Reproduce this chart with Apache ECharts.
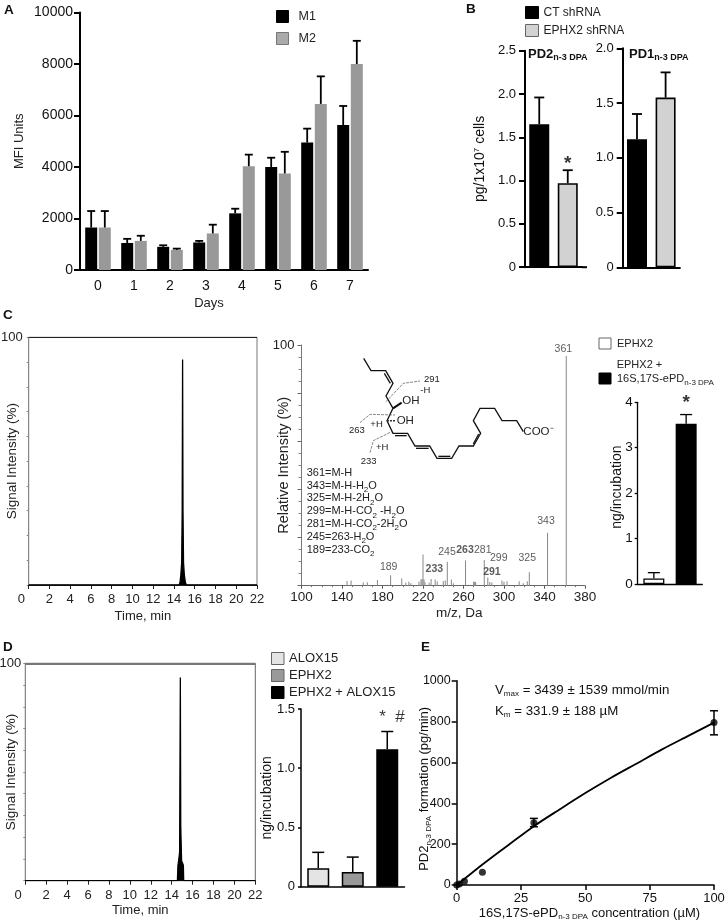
<!DOCTYPE html>
<html><head><meta charset="utf-8">
<style>html,body{margin:0;padding:0;background:#fff}#c{width:725px;height:920px}</style>
<script src="https://cdn.jsdelivr.net/npm/echarts@6/dist/echarts.min.js"></script>
</head><body><div id="c"></div>
<script>
// ---------- data ----------
const days = ['0','1','2','3','4','5','6','7'];
const m1Values = [1650,1050,900,1070,2200,4000,4950,5630];
const m1Tops   = [2290,1210,960,1130,2380,4360,5490,6370];
const m2Values = [1650,1130,780,1420,4030,3750,6450,8000];
const m2Tops   = [2290,1330,830,1760,4480,4590,7520,8900];

const shCats = ['CT shRNA','EPHX2 shRNA'];
const pd2Values = [1.65,0.97];
const pd2Tops   = [1.96,1.12];
const pd1Values = [1.17,1.55];
const pd1Tops   = [1.40,1.78];

const cBarCats = ['EPHX2','EPHX2 + ePD'];
const cBarValues = [0.12,3.53];
const cBarTops   = [0.25,3.73];

const dBarCats = ['ALOX15','EPHX2','EPHX2 + ALOX15'];
const dBarValues = [0.155,0.125,1.16];
const dBarTops   = [0.29,0.25,1.31];

const chromC = [[0,0],[14.5,0],[14.58,1],[14.66,4],[14.74,9],[14.79,30],[14.83,91],[14.87,30],[14.92,9],[15.0,4],[15.1,1],[15.2,0],[22,0]];
const chromD = [[0,0],[14.55,0],[14.6,7],[14.66,9],[14.76,13],[14.83,93.5],[14.87,25],[14.95,9],[15.05,8],[15.12,7],[15.15,0],[22,0]];

const spectrum = [[145,2],[149,2.2],[161,1.3],[165,1.4],[175,2.4],[188,4.3],[199,3],[203,1.3],[206,1.6],[208,1],
  [216,1.6],[218,2.6],[219,2.8],[220,13],[221,2.6],[222,1.4],[226,1.2],[228,2.8],[232,2.6],[234,1.8],[240,2],[242,2.2],
  [244,10],[248,2.6],[250,1],[262,10.5],[270,1.6],[271,1.6],[272,1.5],[280.5,10.7],[284,3.4],[286,1.5],[288,1.3],
  [298,2.2],[300,1.6],[303,1.8],[315,1.8],[319,1],[323,1.8],[325,5.6],[343,22],[361.5,95.4]];
const peakLabels = [['361',358.6,98.2,0],['343',341.5,26.9,0],['325',323,11.6,0],['299',294.8,11.4,0],['291',288.1,5.8,1],
  ['281',279,14.7,0],['263',261.5,14.9,1],['245',243.7,14,0],['233',231.2,6.9,1],['189',186.1,7.8,0]];

const ePoints = [[0,0],[1,5],[3,18],[10,63],[30,305],[100,795]];
const eErrors = [[30,285,326],[100,735,853]];
const eCurve = [[0,0],[5,50],[10,100],[20,195],[30,288],[40,370],[50,450],[60,525],[70,595],[80,665],[90,730],[100,795]];

// ---------- helpers ----------
const FONT = '"Liberation Sans", Arial, sans-serif';
const subRich = {s:{fontSize:8,padding:[8,0,0,0],verticalAlign:'bottom',fontFamily:FONT},
                 sb:{fontSize:9,fontWeight:'bold',padding:[8,0,0,0],verticalAlign:'bottom',fontFamily:FONT},
                 b:{fontSize:13,fontWeight:'bold',fontFamily:FONT}};

function errSeries(name, xi, pairs, frac, w, cap){
  return {type:'custom',name,xAxisIndex:xi,yAxisIndex:xi,silent:true,z:3,clip:false,
    encode:{x:0,y:[1,2]},data:pairs,
    renderItem(p,api){
      const x=api.value(0),lo=api.coord([x,api.value(1)]),hi=api.coord([x,api.value(2)]);
      const off=frac*api.size([1,0])[0],cx=lo[0]+off;
      const st={stroke:'#000',lineWidth:w};
      return {type:'group',children:[
        {type:'line',shape:{x1:cx,y1:lo[1],x2:cx,y2:hi[1]},style:st},
        {type:'line',shape:{x1:cx-cap,y1:hi[1],x2:cx+cap,y2:hi[1]},style:st}]};
    }};
}
const zip=(a,b)=>a.map((v,i)=>[i,v,b[i]]);
function onlyIdx(vals,i){return vals.map((v,j)=>j===i?v:null);}
function note(xi,items,font){
  return {type:'scatter',xAxisIndex:xi,yAxisIndex:xi,symbolSize:0,silent:true,z:5,clip:false,
    data:items.map(t=>({name:t[0],value:[t[1],t[2]],label:{fontWeight:t[3]?'bold':(font.weight||'normal')}})),
    label:{show:true,position:'inside',formatter:p=>p.name,color:font.color||'#000',fontSize:font.size,fontFamily:FONT}};
}
function catX(i,data,o){o=o||{};
  const line={onZero:false,lineStyle:{color:'#000',width:o.w||2}};
  if(o.ext){line.symbol=['none','rect'];line.symbolSize=[o.w||2,o.ext*2];line.symbolOffset=[0,o.ext];}
  return Object.assign({type:'category',gridIndex:i,data,axisLine:line,
  axisTick:{alignWithLabel:true,length:o.tick||5,lineStyle:{color:'#000',width:o.w||2}},
  axisLabel:{show:!!o.labels,fontSize:14,color:'#111',margin:9,fontFamily:FONT},
  splitLine:{show:false}},o.extra||{});}
function valY(i,max,interval,o){o=o||{};
  const lab={fontSize:o.font||13,color:'#111',margin:o.margin||4,fontFamily:FONT};
  lab.formatter=o.fmt||(v=>String(v));
  return Object.assign({type:'value',gridIndex:i,min:0,max,interval,
  axisLine:{show:true,onZero:false,lineStyle:{color:'#000',width:o.w||2}},
  axisTick:{show:true,length:o.tick||6,lineStyle:{color:'#000',width:o.w||2}},
  axisLabel:lab,splitLine:{show:false}},o.extra||{});}
const dec=v=>v===0?'0':v.toFixed(1);

const grids=[
 {left:80,top:12.5,width:288,height:257.5},     //0 A
 {left:525,top:50.7,width:57,height:216.5},     //1 B PD2
 {left:622.7,top:48.3,width:57.2,height:219},   //2 B PD1
 {left:28.7,top:337.3,width:228.3,height:247.7,show:true,borderColor:'#777',borderWidth:1}, //3 C chrom
 {left:301.5,top:345,width:283.5,height:240.7}, //4 C spec
 {left:637.7,top:402.3,width:64.6,height:181.7},//5 C bar
 {left:25.3,top:663.3,width:230,height:217.4,show:true,borderColor:'#666',borderWidth:1}, //6 D chrom
 {left:301,top:709,width:103.5,height:177.7},   //7 D bar
 {left:456.7,top:680.7,width:257.3,height:204.3}//8 E
].map(g=>Object.assign(g,{outerBoundsMode:'none'}));

function chromX(i,nameGap){return {type:'value',gridIndex:i,min:0,max:22,interval:2,
  axisLine:{onZero:false,lineStyle:{color:'#222',width:1}},
  axisTick:{length:4,lineStyle:{color:'#222',width:1}},
  axisLabel:{fontSize:13,color:'#222',margin:8,fontFamily:FONT,hideOverlap:false,formatter:v=>v===0?'0    ':String(v)},
  splitLine:{show:false},name:'Time, min',nameLocation:'middle',nameGap,
  nameTextStyle:{fontSize:13,color:'#222',fontFamily:FONT}};}
function chromY(i,nameGap,margin){return {type:'value',gridIndex:i,min:0,max:100,interval:10,nameMoveOverlap:false,
  axisLine:{show:true,onZero:false,lineStyle:{color:'#888',width:1}},
  axisTick:{show:true,length:2,lineStyle:{color:'#888',width:1}},
  axisLabel:{fontSize:13,color:'#222',margin,fontFamily:FONT,showMinLabel:true,formatter:v=>v===100?'100':''},
  splitLine:{show:false},name:'Signal Intensity (%)',nameLocation:'middle',nameGap,
  nameTextStyle:{fontSize:13.5,color:'#222',fontFamily:FONT}};}
function chromS(i,data,topColor,topW){return {type:'line',xAxisIndex:i,yAxisIndex:i,data,showSymbol:false,silent:true,
  lineStyle:{color:'#000',width:1.3},areaStyle:{color:'#000',opacity:1},
  markLine:{silent:true,symbol:'none',label:{show:false},lineStyle:{color:topColor,width:topW,type:'solid'},data:[{yAxis:100}]}};}

const xAxes=[
  catX(0,days,{labels:true,extra:{name:'Days',nameLocation:'middle',nameGap:27,nameTextStyle:{fontSize:13,color:'#222',fontFamily:FONT,padding:[0,30,0,0]}}}),
  catX(1,shCats,{ext:2.5}),
  catX(2,shCats,{}),
  chromX(3,25),
  {type:'value',gridIndex:4,min:100,max:380,interval:40,
   axisLine:{onZero:false,lineStyle:{color:'#666',width:1}},
   axisTick:{length:3,lineStyle:{color:'#555',width:1}},
   minorTick:{show:true,splitNumber:4,length:1.5,lineStyle:{color:'#777'}},
   axisLabel:{fontSize:13.5,color:'#222',margin:5,fontFamily:FONT},splitLine:{show:false},minorSplitLine:{show:false},
   name:'m/z, Da',nameLocation:'middle',nameGap:21,nameTextStyle:{fontSize:13.5,color:'#222',fontFamily:FONT,padding:[0,0,0,32]}},
  catX(5,cBarCats,{w:1.3,tick:5}),
  chromX(6,23),
  catX(7,dBarCats,{w:1.5,tick:5}),
  {type:'value',gridIndex:8,min:0,max:100,interval:25,
   axisLine:{onZero:false,lineStyle:{color:'#000',width:1.5}},axisTick:{length:5,lineStyle:{color:'#000',width:1.5}},
   axisLabel:{fontSize:13,color:'#111',margin:7,fontFamily:FONT,showMaxLabel:true},splitLine:{show:false},
   name:'16S,17S-ePD{s|n-3 DPA} concentration (µM)',nameLocation:'middle',nameGap:20,
   nameTextStyle:{fontSize:13,color:'#111',fontFamily:FONT,padding:[0,0,0,8],rich:subRich}}
];
const yAxes=[
  valY(0,10000,2000,{font:14,margin:7,extra:{nameMoveOverlap:false,name:'MFI Units',nameLocation:'middle',nameGap:54,nameTextStyle:{fontSize:13,color:'#222',fontFamily:FONT}}}),
  valY(1,2.5,0.5,{fmt:dec,margin:9,extra:{nameMoveOverlap:false,name:'pg/1x10{t|7} cells',nameLocation:'middle',nameGap:38,nameTextStyle:{fontSize:14,color:'#111',fontFamily:FONT,rich:{t:{fontSize:8,verticalAlign:'top',fontFamily:FONT}}}}}),
  valY(2,2,0.5,{fmt:dec,margin:9}),
  chromY(3,9,6),
  {type:'value',gridIndex:4,min:0,max:100,interval:20,nameMoveOverlap:false,
   axisLine:{show:true,onZero:false,lineStyle:{color:'#777',width:1}},
   axisTick:{show:true,length:4,lineStyle:{color:'#666',width:1}},
   minorTick:{show:true,splitNumber:4,length:3,lineStyle:{color:'#888'}},
   axisLabel:{fontSize:13,color:'#222',margin:7,fontFamily:FONT,formatter:v=>v===100?'100':''},
   splitLine:{show:false},minorSplitLine:{show:false},
   name:'Relative Intensity (%)',nameLocation:'middle',nameGap:10,nameTextStyle:{fontSize:14.5,color:'#222',fontFamily:FONT}},
  valY(5,4,1,{w:1.3,tick:3,font:13.5,margin:5,extra:{nameMoveOverlap:false,name:'ng/incubation',nameLocation:'middle',nameGap:14,nameTextStyle:{fontSize:14,color:'#111',fontFamily:FONT,padding:[0,0,0,12]}}}),
  chromY(6,7,4),
  valY(7,1.5,0.5,{w:1.5,tick:3,font:13,margin:6,fmt:dec,extra:{nameMoveOverlap:false,name:'ng/incubation',nameLocation:'middle',nameGap:27,nameTextStyle:{fontSize:14,color:'#111',fontFamily:FONT}}}),
  valY(8,1000,200,{w:1.5,tick:5,font:12.5,margin:6,extra:{nameMoveOverlap:false,name:'PD2{s|n-3 DPA} formation (pg/min)',nameLocation:'middle',nameGap:24,nameTextStyle:{fontSize:13,color:'#111',fontFamily:FONT,rich:subRich,padding:[0,12,0,0]}}})
];

const GAP=((13.6-12)/12*100)+'%';
function oneBar(xi,name,vals,i,color,bw,bwd,borderColor){
  return {type:'bar',name,xAxisIndex:xi,yAxisIndex:xi,data:onlyIdx(vals,i),barWidth:bw,barGap:'-100%',silent:true,
    itemStyle:{color,borderColor:borderColor||'#000',borderWidth:bwd}};
}
const series=[
  {type:'bar',name:'M1',xAxisIndex:0,yAxisIndex:0,data:m1Values,barWidth:12,barGap:GAP,silent:true,itemStyle:{color:'#000'}},
  {type:'bar',name:'M2',xAxisIndex:0,yAxisIndex:0,data:m2Values,barWidth:12,barGap:GAP,silent:true,itemStyle:{color:'#999'}},
  errSeries('M1 err',0,zip(m1Values,m1Tops),-0.189,1.8,4),
  errSeries('M2 err',0,zip(m2Values,m2Tops),0.189,1.8,4),

  oneBar(1,'CT shRNA',pd2Values,0,'#000',20,1.6),
  oneBar(1,'EPHX2 shRNA',pd2Values,1,'#d2d2d2',20,1.6),
  errSeries('PD2 err',1,zip(pd2Values,pd2Tops),0,1.8,5),
  note(1,[['*',1,1.2]],{size:19,weight:'bold'}),
  oneBar(2,'PD1 CT',pd1Values,0,'#000',20,1.6),
  oneBar(2,'PD1 EPHX2',pd1Values,1,'#d2d2d2',20,1.6),
  errSeries('PD1 err',2,zip(pd1Values,pd1Tops),0,1.8,5),

  chromS(3,chromC,'#222',1),
  {type:'bar',name:'Spectrum',xAxisIndex:4,yAxisIndex:4,data:spectrum,barWidth:1,silent:true,itemStyle:{color:'#888'}},
  note(4,peakLabels,{size:10.5,color:'#333'}),

  oneBar(5,'EPHX2',cBarValues,0,'#fff',21,1.3),
  oneBar(5,'EPHX2 + 16S,17S-ePD',cBarValues,1,'#000',21,1.3),
  errSeries('C err',5,zip(cBarValues,cBarTops),0,1.3,6),
  note(5,[['*',1,3.98]],{size:19,weight:'bold'}),

  chromS(6,chromD,'#777',2),

  oneBar(7,'ALOX15',dBarValues,0,'#e4e4e4',22,1.5),
  oneBar(7,'EPHX2 ',dBarValues,1,'#999',22,1.5),
  oneBar(7,'EPHX2 + ALOX15',dBarValues,2,'#000',22,1.5),
  errSeries('D err',7,zip(dBarValues,dBarTops),0,1.5,6),
  note(7,[['  *  #',2,1.43]],{size:17}),

  {type:'line',name:'Fit',xAxisIndex:8,yAxisIndex:8,data:eCurve,smooth:0.3,showSymbol:false,silent:true,clip:false,lineStyle:{color:'#000',width:1.8}},
  {type:'scatter',name:'Rate',xAxisIndex:8,yAxisIndex:8,data:ePoints,symbolSize:7,silent:true,clip:false,itemStyle:{color:'#000'},z:4},
  {type:'custom',name:'Rate err',xAxisIndex:8,yAxisIndex:8,silent:true,clip:false,encode:{x:0,y:[1,2]},data:eErrors,z:4,
   renderItem(p,api){const x=api.value(0),a=api.coord([x,api.value(1)]),b=api.coord([x,api.value(2)]),c=4,st={stroke:'#000',lineWidth:1.5};
     return {type:'group',children:[
       {type:'line',shape:{x1:a[0],y1:a[1],x2:b[0],y2:b[1]},style:st},
       {type:'line',shape:{x1:a[0]-c,y1:a[1],x2:a[0]+c,y2:a[1]},style:st},
       {type:'line',shape:{x1:b[0]-c,y1:b[1],x2:b[0]+c,y2:b[1]},style:st}]};}}
];

function leg(left,top,gap,size,items,font,textPad,extra){
  return Object.assign({left,top,orient:'vertical',padding:0,itemGap:gap,itemWidth:size[0],itemHeight:size[1],icon:'rect',selectedMode:false,
    textStyle:{fontSize:font,color:'#222',fontFamily:FONT,padding:[0,0,0,textPad],rich:subRich},
    data:items.map(it=>({name:it[0],itemStyle:{color:it[1],borderColor:it[2],borderWidth:1}}))},extra||{});
}
const legends=[
  leg(276,10,9,[12,12],[['M1','#000','#000'],['M2','#aaa','#777']],12.5,5),
  leg(525,6,5,[13,12],[['CT shRNA','#000','#000'],['EPHX2 shRNA','#d2d2d2','#666']],12,0),
  leg(598.5,337.5,23,[12,11],[['EPHX2','#fff','#666'],['EPHX2 + 16S,17S-ePD','#000','#000']],11,1,
      {formatter:n=>n==='EPHX2'?n:'16S,17S-ePD{s|n-3 DPA}'}),
  leg(271,652,4,[12.5,12],[['ALOX15','#e4e4e4','#666'],['EPHX2 ','#999','#666'],['EPHX2 + ALOX15','#000','#000']],13,0)
];

// ---------- text & structure ----------
function T(x,y,text,o){o=o||{};return {type:'text',x,y,silent:true,z:20,style:{text,align:o.align||'left',verticalAlign:'middle',
  fontSize:o.size||11,fontWeight:o.bold?'bold':'normal',fontFamily:FONT,fill:o.color||'#222',rich:subRich}};}
const Z=(x,y)=>[260+x/3,320+y/3];
const TZ=(x,y,t,o)=>{const p=Z(x,y);return T(p[0],p[1],t,o);};
function PL(pts,w,color,dash){return {type:'polyline',silent:true,z:19,shape:{points:pts.map(p=>Z(p[0],p[1]))},
  style:{stroke:color,lineWidth:w,fill:null,lineDash:dash||null}};}
const B={size:13.5,bold:true,color:'#111'};
const chain=[[311,115],[333,152],[377,152],[399,190],[378,228],[399,265],[381,302],[399,340],[443,340],[465,378],[509,378],[531,415],[575,415],[597,378],[640,378],[662,340],[640,302],[660,265],[704,265],[726,302],[770,302],[790,335]];
const graphics=[
  T(4,10,'A',B),T(466,9,'B',B),T(3,315,'C',B),T(3,647,'D',B),T(421,647,'E',B),
  T(528,54,'{b|PD2}{sb|n-3 DPA}',{size:13,bold:true,color:'#111'}),
  T(629,54,'{b|PD1}{sb|n-3 DPA}',{size:13,bold:true,color:'#111'}),
  T(616.7,364.5,'EPHX2 +',{size:11}),
  T(495,690,'V{s|max} = 3439 ± 1539 mmol/min',{size:13.3,color:'#111'}),
  T(495,711,'K{s|m} = 331.9 ± 188 µM',{size:13.3,color:'#111'}),
  PL(chain,1.3,'#111'),
  PL([[373,160],[391,190]],1.3,'#111'),PL([[405,347],[440,347]],1.3,'#111'),PL([[468,385],[506,385]],1.3,'#111'),
  PL([[535,409],[571,409]],1.3,'#111'),PL([[640,372],[656,342]],1.3,'#111'),
  PL([[399,265],[425,248]],2.2,'#111'),PL([[381,302],[408,302]],1.5,'#333',[2,1]),
  PL([[378,245],[430,190],[480,183]],0.7,'#555',[3,1]),
  PL([[300,308],[330,283],[405,285]],0.7,'#555',[3,1]),
  PL([[330,398],[340,362],[395,335]],0.7,'#555',[3,1]),
  TZ(427,243,'OH',{size:11.5}),TZ(410,303,'OH',{size:11.5}),
  TZ(790,335,'COO⁻',{size:11.5}),
  TZ(492,178,'291',{size:9.5}),TZ(481,212,'-H',{size:9.5}),
  TZ(267,332,'263',{size:9.5}),TZ(331,312,'+H',{size:9.5}),
  TZ(302,423,'233',{size:9.5}),TZ(348,381,'+H',{size:9.5}),
  TZ(140,458,'361=M-H',{size:11}),
  TZ(140,497,'343=M-H-H{s|2}O',{size:11}),
  TZ(140,535,'325=M-H-2H{s|2}O',{size:11}),
  TZ(140,574,'299=M-H-CO{s|2} -H{s|2}O',{size:11}),
  TZ(140,612,'281=M-H-CO{s|2}-2H{s|2}O',{size:11}),
  TZ(140,651,'245=263-H{s|2}O',{size:11}),
  TZ(140,690,'189=233-CO{s|2}',{size:11})
];

const chart=echarts.init(document.getElementById('c'),null,{renderer:'canvas'});
chart.setOption({animation:false,backgroundColor:'#fff',textStyle:{fontFamily:FONT},
  grid:grids,xAxis:xAxes,yAxis:yAxes,series,legend:legends,graphic:{elements:graphics}});
</script></body></html>
